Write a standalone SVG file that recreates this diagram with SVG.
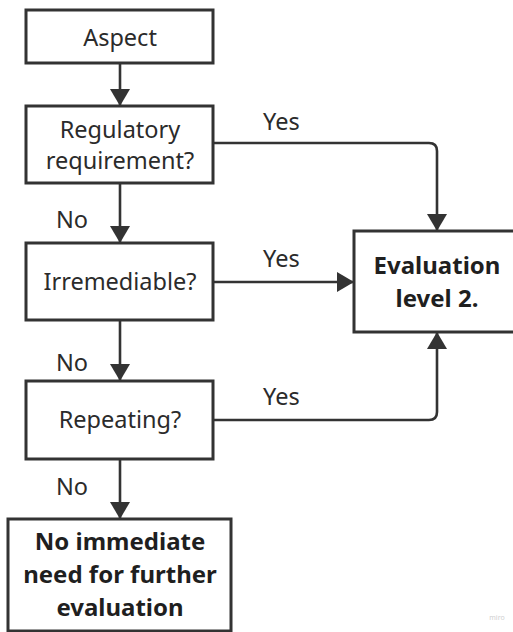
<svg xmlns="http://www.w3.org/2000/svg" width="513" height="632" viewBox="0 0 513 632">
  <style>
    .box { fill: #ffffff; stroke: #333333; stroke-width: 3; }
    .lbl { font-family: "Noto Sans", "Open Sans", "DejaVu Sans", sans-serif; font-size: 23.5px; fill: #2b2b2b; text-anchor: middle; }
    .bold { font-weight: bold; font-size: 24px; fill: #1f1f1f; }
    .edge { font-family: "Noto Sans", "Open Sans", "DejaVu Sans", sans-serif; font-size: 23.5px; fill: #2b2b2b; }
    .wire { fill: none; stroke: #333333; stroke-width: 2.6; marker-end: url(#head); }
  </style>
  <defs>
    <marker id="head" markerUnits="userSpaceOnUse" viewBox="0 0 18 22" markerWidth="18" markerHeight="22" refX="17" refY="11" orient="auto">
      <path d="M0,1 L17,11 L0,21 Z" fill="#333333"/>
    </marker>
  </defs>
  <rect width="513" height="632" fill="#ffffff"/>

  <!-- connectors -->
  <g id="connectors">
    <path class="wire" d="M120,63 V106"/>
    <path class="wire" d="M120,183 V243"/>
    <path class="wire" d="M120,320 V381"/>
    <path class="wire" d="M120,459 V519"/>
    <path class="wire" d="M213,143 H429 Q437,143 437,151 V231"/>
    <path class="wire" d="M213,282 H354"/>
    <path class="wire" d="M213,420 H429 Q437,420 437,412 V332"/>
    <text class="edge" x="263" y="130">Yes</text>
    <text class="edge" x="263" y="267">Yes</text>
    <text class="edge" x="263" y="405">Yes</text>
    <text class="edge" x="56" y="228">No</text>
    <text class="edge" x="56" y="371">No</text>
    <text class="edge" x="56" y="495">No</text>
  </g>

  <g id="aspect">
    <rect class="box" x="26" y="10" width="187" height="53"/>
    <text class="lbl" x="120" y="46">Aspect</text>
  </g>

  <g id="regulatory">
    <rect class="box" x="26" y="106" width="187" height="77"/>
    <text class="lbl" x="120" y="138">Regulatory</text>
    <text class="lbl" x="120" y="169">requirement?</text>
  </g>

  <g id="irremediable">
    <rect class="box" x="26" y="243" width="187" height="77"/>
    <text class="lbl" x="120" y="290">Irremediable?</text>
  </g>

  <g id="repeating">
    <rect class="box" x="26" y="381" width="187" height="78"/>
    <text class="lbl" x="120" y="428">Repeating?</text>
  </g>

  <g id="evaluation">
    <rect class="box" x="354" y="231" width="166" height="101"/>
    <text class="lbl bold" x="437" y="274">Evaluation</text>
    <text class="lbl bold" x="437" y="307">level 2.</text>
  </g>

  <g id="no-need">
    <rect class="box" x="8" y="519" width="223" height="112"/>
    <text class="lbl bold" x="120" y="550">No immediate</text>
    <text class="lbl bold" x="120" y="583">need for further</text>
    <text class="lbl bold" x="120" y="616">evaluation</text>
  </g>

  <text x="497" y="620" font-family="'Noto Sans', sans-serif" font-size="7" fill="#d0d0d0" text-anchor="middle">miro</text>
</svg>
